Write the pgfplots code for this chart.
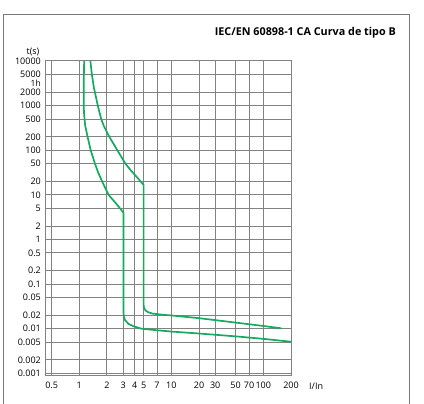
\documentclass[border=0pt]{standalone}
\usepackage{pgfplots}
\pgfplotsset{compat=1.18}
\usepackage{fontspec}
\setmainfont{Open Sans}
\definecolor{curve}{RGB}{20,170,95}
\definecolor{gridc}{RGB}{130,130,130}
\definecolor{framec}{RGB}{120,120,120}
\begin{document}
\begin{tikzpicture}[x=1pt,y=1pt]
\useasboundingbox (0,0) rectangle (424,404);
\draw[framec, line width=1pt] (3.3,-5) -- (3.3,389) -- (409.3,389) -- (409.3,-5);
\node[anchor=base east, inner sep=0pt, font=\bfseries\fontsize{10.8}{12}\selectfont] at (396,368) {IEC/EN 60898-1 CA Curva de tipo B};
\node[inner sep=0pt, font=\fontsize{9}{10}\selectfont] at (33,352.3) {t(s)};
\node[anchor=west, inner sep=0pt, font=\fontsize{9}{10}\selectfont] at (309,18) {I/In};
\begin{axis}[
  at={(45.3pt,28pt)}, anchor=south west,
  scale only axis, width=245.7pt, height=315pt,
  xmode=log, ymode=log,
  xmin=0.427, xmax=200, ymin=0.00087, ymax=10000,
  axis line style={draw=gridc, line width=1pt},
  grid=major,
  major grid style={draw=gridc, line width=1pt},
  major tick length=0pt,
  minor tick num=0,
  xtick={0.5,1,2,3,4,5,7,10,20,30,50,70,100,200},
  xticklabels={0.5,1,2,3,4,5,7,10,20,30,50,70,100,200},
  ytick={0.001,0.002,0.005,0.01,0.02,0.05,0.1,0.2,0.5,1,2,5,10,20,50,100,200,500,1000,2000,5000,10000},
  yticklabels={0.001,0.002,0.005,0.01,0.02,0.05,0.1,0.2,0.5,1,2,5,10,20,50,100,200,500,1000,2000,5000,10000},
  extra y ticks={3130},
  extra y tick labels={1h},
  extra y tick style={grid=none, yticklabel style={font=\fontsize{8.5}{9}\selectfont}},
  xticklabel style={anchor=base, inner sep=0pt, yshift=-13pt, font=\fontsize{9}{10}\selectfont},
  yticklabel style={anchor=east, inner sep=0pt, xshift=-4.3pt, font=\fontsize{9}{10}\selectfont},
  clip=false,
]
\addplot[curve, line width=1.7pt, line join=round] coordinates {
(1.13,10000) (1.115,3000) (1.115,1000) (1.13,600) (1.158,358) (1.23,200) (1.33,100) (1.48,50) (1.6,32) (1.77,20) (2.08,10) (2.53,6.28) (3.02,4.0)
(3.02,0.025) (3.04,0.019) (3.14,0.0156) (3.44,0.0127) (3.95,0.0112) (4.74,0.01) (6.9,0.00924) (10,0.00862) (20,0.0078) (50,0.00673) (100,0.00592) (200,0.0051)
};
\addplot[curve, line width=1.7pt, line join=round] coordinates {
(1.32,10000) (1.37,5000) (1.44,2550) (1.59,1000) (1.73,500) (1.84,358) (2.12,200) (2.59,100) (3.17,50) (3.6,36) (4.03,27.9) (5.0,16.7)
(5.0,0.034) (5.05,0.029) (5.24,0.0256) (5.58,0.0235) (6.23,0.0218) (7.93,0.0206) (10,0.0198) (20,0.0172) (50,0.0137) (100,0.0115) (157,0.0102)
};
\end{axis}
\end{tikzpicture}
\end{document}
